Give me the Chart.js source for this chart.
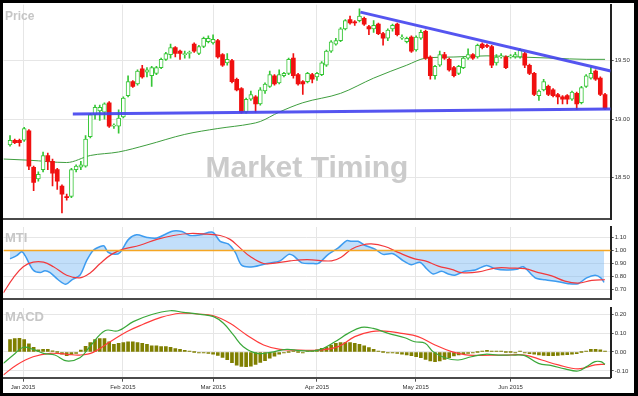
<!DOCTYPE html>
<html>
<head>
<meta charset="utf-8">
<script src="https://cdn.jsdelivr.net/npm/chart.js@4/dist/chart.umd.min.js"></script>
<style>
  body { margin: 0; background: #000; }
  #rahmen { position: relative; width: 638px; height: 396px; background: #000; overflow: hidden; }
  #flaeche { position: absolute; left: 3px; top: 3px; width: 631px; height: 390px; background: #fff; }
  canvas { position: absolute; left: 0; }
</style>
</head>
<body>
<div id="rahmen">
  <div id="flaeche"></div>
  <canvas id="priceChart" width="638" height="224" style="top:0px"></canvas>
  <canvas id="mtiChart" width="638" height="82" style="top:222px"></canvas>
  <canvas id="macdChart" width="638" height="92" style="top:302px"></canvas>
</div>
<script>
// Monatsbeschriftung der Zeitachse (Position = Handelstag-Index)
let monthPos = [2.75, 23.9, 43, 65, 85.9, 106];
let monthLabels = ["Jan 2015", "Feb 2015", "Mar 2015", "Apr 2015", "May 2015", "Jun 2015"];

// Kerzen (ein Wert pro Handelstag)
let open = [18.78, 18.82, 18.82, 18.82, 18.90, 18.59, 18.49, 18.57, 18.69, 18.64,
  18.57, 18.43, 18.34, 18.34, 18.57, 18.59, 18.60, 18.85, 19.04, 19.07,
  19.06, 19.14, 18.94, 18.94, 19.02, 19.20, 19.32, 19.30, 19.43, 19.40,
  19.37, 19.39, 19.44, 19.51, 19.55, 19.61, 19.58, 19.55, 19.56, 19.64,
  19.56, 19.62, 19.66, 19.65, 19.67, 19.55, 19.48, 19.50, 19.34, 19.26,
  19.06, 19.17, 19.19, 19.13, 19.24, 19.28, 19.37, 19.31, 19.37, 19.39,
  19.52, 19.38, 19.32, 19.32, 19.38, 19.36, 19.38, 19.46, 19.58, 19.64,
  19.67, 19.77, 19.85, 19.83, 19.84, 19.86, 19.79, 19.77, 19.81, 19.73,
  19.69, 19.77, 19.81, 19.69, 19.66, 19.70, 19.59, 19.69, 19.75, 19.53,
  19.37, 19.46, 19.55, 19.51, 19.44, 19.39, 19.44, 19.52, 19.55, 19.53,
  19.64, 19.63, 19.62, 19.48, 19.53, 19.53, 19.53, 19.53, 19.53, 19.56,
  19.46, 19.39, 19.20, 19.25, 19.28, 19.25, 19.21, 19.19, 19.20, 19.17,
  19.22, 19.14, 19.28, 19.35, 19.41, 19.35, 19.21];
let high = [18.86, 18.83, 18.83, 18.93, 18.91, 18.60, 18.55, 18.72, 18.71, 18.66,
  18.58, 18.44, 18.36, 18.58, 18.61, 18.64, 18.86, 19.05, 19.12, 19.12,
  19.14, 19.15, 18.96, 19.08, 19.19, 19.37, 19.33, 19.42, 19.46, 19.44,
  19.45, 19.45, 19.52, 19.57, 19.64, 19.62, 19.59, 19.58, 19.58, 19.65,
  19.63, 19.70, 19.71, 19.72, 19.68, 19.56, 19.56, 19.51, 19.35, 19.27,
  19.18, 19.24, 19.20, 19.27, 19.31, 19.41, 19.38, 19.42, 19.40, 19.52,
  19.56, 19.39, 19.33, 19.40, 19.39, 19.40, 19.49, 19.59, 19.67, 19.69,
  19.78, 19.85, 19.88, 19.84, 19.94, 19.87, 19.80, 19.84, 19.82, 19.74,
  19.77, 19.81, 19.82, 19.72, 19.70, 19.71, 19.71, 19.76, 19.76, 19.54,
  19.46, 19.58, 19.57, 19.52, 19.45, 19.46, 19.53, 19.60, 19.56, 19.64,
  19.65, 19.64, 19.63, 19.55, 19.56, 19.54, 19.55, 19.57, 19.60, 19.57,
  19.47, 19.40, 19.25, 19.34, 19.29, 19.26, 19.22, 19.20, 19.21, 19.24,
  19.23, 19.28, 19.38, 19.44, 19.42, 19.36, 19.22];
let low = [18.77, 18.79, 18.77, 18.81, 18.57, 18.39, 18.47, 18.55, 18.57, 18.43,
  18.40, 18.20, 18.31, 18.33, 18.55, 18.57, 18.59, 18.84, 19.00, 18.99,
  19.00, 18.93, 18.92, 18.88, 19.01, 19.19, 19.27, 19.29, 19.35, 19.36,
  19.28, 19.38, 19.43, 19.50, 19.52, 19.53, 19.51, 19.52, 19.52, 19.57,
  19.55, 19.61, 19.65, 19.64, 19.52, 19.45, 19.46, 19.31, 19.24, 19.05,
  19.05, 19.16, 19.06, 19.12, 19.22, 19.27, 19.29, 19.30, 19.36, 19.38,
  19.35, 19.29, 19.21, 19.31, 19.31, 19.33, 19.37, 19.45, 19.57, 19.63,
  19.66, 19.76, 19.81, 19.80, 19.83, 19.80, 19.72, 19.74, 19.72, 19.63,
  19.67, 19.75, 19.71, 19.68, 19.65, 19.57, 19.58, 19.68, 19.51, 19.34,
  19.34, 19.45, 19.51, 19.41, 19.36, 19.38, 19.43, 19.51, 19.51, 19.52,
  19.60, 19.61, 19.44, 19.46, 19.52, 19.43, 19.52, 19.52, 19.52, 19.44,
  19.38, 19.20, 19.16, 19.24, 19.20, 19.19, 19.13, 19.13, 19.13, 19.16,
  19.08, 19.13, 19.27, 19.34, 19.33, 19.20, 19.08];
let close = [18.82, 18.80, 18.80, 18.92, 18.60, 18.46, 18.53, 18.69, 18.64, 18.54,
  18.47, 18.36, 18.33, 18.57, 18.60, 18.61, 18.83, 19.04, 19.10, 19.10,
  19.13, 18.94, 18.95, 19.01, 19.18, 19.32, 19.28, 19.41, 19.36, 19.42,
  19.44, 19.44, 19.51, 19.56, 19.61, 19.56, 19.56, 19.56, 19.57, 19.58,
  19.62, 19.69, 19.69, 19.68, 19.53, 19.46, 19.51, 19.32, 19.25, 19.06,
  19.17, 19.21, 19.13, 19.25, 19.30, 19.38, 19.30, 19.38, 19.39, 19.51,
  19.37, 19.30, 19.30, 19.39, 19.34, 19.39, 19.48, 19.58, 19.66, 19.67,
  19.77, 19.84, 19.82, 19.82, 19.88, 19.81, 19.77, 19.80, 19.73, 19.69,
  19.76, 19.80, 19.72, 19.70, 19.69, 19.58, 19.70, 19.74, 19.52, 19.37,
  19.45, 19.55, 19.52, 19.42, 19.37, 19.45, 19.52, 19.55, 19.52, 19.63,
  19.61, 19.62, 19.46, 19.53, 19.54, 19.44, 19.54, 19.55, 19.59, 19.46,
  19.39, 19.21, 19.24, 19.32, 19.21, 19.20, 19.19, 19.17, 19.17, 19.23,
  19.13, 19.27, 19.37, 19.39, 19.34, 19.21, 19.09];

// gleitender Durchschnitt (grün)
let maX = [-1.4, 4, 12, 17, 23, 29, 37, 44, 51, 53, 57, 62, 70, 77, 84, 88, 94, 101, 108, 115, 122, 126];
let maY = [18.66, 18.65, 18.63, 18.69, 18.72, 18.78, 18.87, 18.92, 18.96, 18.98, 19.06, 19.14,
  19.22, 19.35, 19.46, 19.52, 19.53, 19.54, 19.53, 19.52, 19.51, 19.51];

// Trendlinien (blau)
let resX = [74.2, 127.2];
let resY = [19.913, 19.41];
let supX = [13.3, 127.2];
let supY = [19.045, 19.086];

// MTI und Signal
let mtiLevel = 1.0;
let mtiX = [0, 1.4, 2.5, 3.2, 4.9, 6.4, 7.4, 8.5, 10.2, 11.8, 13.1, 14.8, 16.2, 17.6, 19.1, 19.9, 20.8, 22.2,
  23.3, 25.1, 26.8, 29.0, 31.1, 33.2, 34.6, 36.4, 38.1, 40.3, 42.9, 44.5, 46.2, 47.7, 49.1, 51.5, 54.4,
  57.2, 59.0, 60.0, 61.8, 64.3, 65.3, 67.4, 69.5, 71.3, 72.3, 73.7, 75.1, 77.3, 79.0, 81.1, 83.3, 85.0,
  86.8, 88.2, 89.6, 91.4, 92.8, 94.2, 96.3, 98.5, 100.9, 102.7, 105.1, 107.3, 108.7, 111.2, 113.3,
  116.1, 118.2, 120.3, 122.1, 123.9, 125.1, 125.8];
let mtiY = [0.936, 0.96, 0.99, 0.96, 0.85, 0.83, 0.845, 0.83, 0.775, 0.74, 0.775, 0.81, 0.92, 1.00, 1.03,
  1.035, 0.985, 0.97, 0.985, 1.085, 1.12, 1.10, 1.095, 1.13, 1.15, 1.145, 1.115, 1.12, 1.14, 1.07, 1.05,
  0.985, 0.885, 0.875, 0.90, 0.92, 0.97, 0.96, 0.905, 0.90, 0.90, 0.97, 1.02, 1.075, 1.07, 1.07, 1.04,
  1.01, 0.97, 0.975, 0.92, 0.89, 0.91, 0.86, 0.82, 0.84, 0.82, 0.81, 0.84, 0.85, 0.885, 0.86, 0.85,
  0.855, 0.875, 0.79, 0.775, 0.76, 0.745, 0.745, 0.79, 0.81, 0.79, 0.755];
let sigX = [-1.4, 0.7, 2.8, 4.9, 7.1, 9.2, 12.0, 14.8, 16.9, 19.1, 21.5, 24.0, 27.5, 31.1, 34.6, 38.1,
  41.7, 44.5, 46.6, 48.7, 50.8, 53.7, 56.5, 59.3, 62.9, 68.1, 70.2, 72.3, 74.4, 76.5, 79.4, 82.2, 85.7,
  87.9, 90.7, 93.5, 95.6, 99.2, 102.7, 106.2, 109.0, 111.9, 114.7, 117.5, 120.3, 123.2, 126.0];
let sigY = [0.675, 0.79, 0.875, 0.91, 0.91, 0.875, 0.81, 0.79, 0.825, 0.90, 0.97, 1.01, 1.04, 1.085,
  1.115, 1.13, 1.125, 1.115, 1.085, 1.02, 0.955, 0.90, 0.905, 0.92, 0.93, 0.92, 0.95, 1.01, 1.04, 1.05,
  1.03, 0.985, 0.935, 0.92, 0.88, 0.855, 0.83, 0.835, 0.865, 0.865, 0.86, 0.83, 0.805, 0.765, 0.75,
  0.77, 0.775];

// MACD, Signal und Histogramm
let macdX = [-1.4, 0.7, 2.8, 4.9, 7.1, 9.5, 12.0, 14.8, 16.9, 20.1, 22.9, 26.1, 29.7, 33.9, 36.7, 40.3,
  43.1, 45.2, 47.3, 49.4, 52.3, 55.1, 58.6, 61.4, 65.3, 68.8, 71.6, 74.4, 76.9, 80.1, 83.6, 85.7, 87.9,
  89.6, 92.1, 94.9, 97.7, 100.6, 103.4, 106.9, 109.0, 111.9, 114.7, 117.5, 120.3, 122.1, 123.9, 125.1, 126.0];
let macdY = [-0.06, -0.016, 0.025, 0.014, -0.007, -0.016, -0.047, -0.03, 0.028, 0.112, 0.112, 0.16,
  0.195, 0.217, 0.209, 0.198, 0.186, 0.151, 0.09, 0.028, -0.007, -0.002, 0.014, 0.007, 0.01, 0.054,
  0.098, 0.13, 0.124, 0.098, 0.075, 0.054, 0.046, 0.002, -0.03, -0.042, -0.025, -0.012, -0.016, -0.016,
  -0.019, -0.06, -0.072, -0.089, -0.1, -0.077, -0.051, -0.051, -0.065];
let macdSigX = [-1.4, 1.4, 4.9, 8.5, 12.0, 14.8, 17.6, 21.2, 24.7, 28.2, 31.8, 36.0, 39.6, 43.1, 46.6,
  50.1, 53.7, 57.2, 61.4, 65.3, 69.5, 73.0, 76.5, 79.4, 82.9, 86.4, 90.0, 93.5, 97.0, 104.8, 109.0,
  112.6, 116.1, 120.3, 123.9, 126.0];
let macdSigY = [-0.121, -0.068, -0.025, -0.007, -0.012, -0.016, -0.002, 0.054, 0.107, 0.146, 0.181,
  0.204, 0.2, 0.191, 0.151, 0.09, 0.037, 0.014, 0.01, 0.01, 0.028, 0.081, 0.107, 0.11, 0.098, 0.081,
  0.037, 0.002, -0.016, -0.016, -0.016, -0.042, -0.068, -0.089, -0.068, -0.065];
let hist = [0.065, 0.07, 0.072, 0.066, 0.043, 0.025, 0.011, 0.014, 0.014, 0.006,
  0, -0.012, -0.019, -0.013, -0.008, 0.01, 0.03, 0.05, 0.066, 0.07,
  0.07, 0.054, 0.04, 0.045, 0.049, 0.054, 0.054, 0.05, 0.045, 0.04,
  0.033, 0.032, 0.029, 0.028, 0.025, 0.018, 0.014, 0.009, 0.002, 0,
  -0.002, -0.004, -0.007, -0.012, -0.018, -0.028, -0.04, -0.056, -0.07, -0.076,
  -0.077, -0.074, -0.065, -0.055, -0.045, -0.033, -0.022, -0.011, -0.004, 0,
  0.002, 0, -0.004, 0.002, 0.007, 0.011, 0.019, 0.025, 0.037, 0.046,
  0.049, 0.05, 0.049, 0.046, 0.04, 0.032, 0.023, 0.014, 0.005, 0,
  -0.002, -0.004, -0.007, -0.012, -0.016, -0.019, -0.025, -0.03, -0.039, -0.047,
  -0.051, -0.047, -0.039, -0.03, -0.021, -0.016, -0.009, -0.007, -0.004, 0,
  0.005, 0.009, 0.002, 0.002, 0.002, 0, 0, -0.002, 0.002, -0.004,
  -0.009, -0.012, -0.016, -0.018, -0.019, -0.019, -0.018, -0.016, -0.014, -0.012,
  -0.009, 0, 0.005, 0.014, 0.014, 0.011, 0.004];

let X_MIN = -1.38, X_MAX = 127.2;
let gridColor = "#e6e6e6";

Chart.defaults.font.family = '"Liberation Sans", Arial, sans-serif';
Chart.defaults.animation = false;
Chart.defaults.elements.point.radius = 0;
Chart.defaults.plugins.legend.display = false;
Chart.defaults.plugins.tooltip.enabled = false;

function pts(xs, ys) {
  return xs.map((x, i) => ({ x: x, y: ys[i] }));
}

let up = i => close[i] >= open[i];

// Titel der Felder und Wasserzeichen
let panelText = {
  id: "panelText",
  beforeDatasetsDraw(chart, args, opts) {
    let ctx = chart.ctx;
    ctx.save();
    ctx.fillStyle = "#c6c6c6";
    ctx.font = "bold " + opts.size + 'px "Liberation Sans", Arial, sans-serif';
    ctx.fillText(opts.text, 5, opts.baseline);
    if (opts.watermark) {
      ctx.fillStyle = "#cbcbcb";
      ctx.font = 'bold 30px "Liberation Sans", Arial, sans-serif';
      ctx.textAlign = "center";
      ctx.fillText(opts.watermark, 307, 177);
    }
    ctx.restore();
  }
};

function xAchse(mitText) {
  return {
    type: "linear", min: X_MIN, max: X_MAX, offset: false,
    afterBuildTicks: s => { s.ticks = monthPos.map(v => ({ value: v })); },
    afterFit: s => { s.height = mitText ? 14 : 0; },
    grid: { color: gridColor, offset: false, drawTicks: mitText, tickLength: 4, tickColor: "#555" },
    border: { display: true, color: "#4a4a4a", width: 2 },
    ticks: {
      display: mitText, autoSkip: false, maxRotation: 0, padding: 2, color: "#333",
      font: { size: 6 }, callback: (v, i) => monthLabels[i]
    }
  };
}

function yAchse(min, max, werte) {
  return {
    position: "right", min: min, max: max,
    afterBuildTicks: s => { s.ticks = werte.map(v => ({ value: v })); },
    afterFit: s => { s.width = 27.3; },
    grid: { color: gridColor, tickLength: 3, tickColor: "#555" },
    border: { display: true, color: "#222", width: 2 },
    ticks: { color: "#333", font: { size: 6 }, padding: 1, callback: v => v.toFixed(2) }
  };
}

// Kursfeld
new Chart(document.getElementById("priceChart"), {
  type: "bar",
  data: {
    datasets: [
      { type: "line", data: pts(resX, resY), borderColor: "rgba(66,66,238,0.9)", borderWidth: 3, order: 0 },
      { type: "line", data: pts(supX, supY), borderColor: "rgba(66,66,238,0.9)", borderWidth: 3, order: 0 },
      {
        order: 1, grouped: false, barThickness: 4, minBarLength: 1, borderSkipped: false,
        data: open.map((o, i) => ({ x: i, y: [o, close[i]] })),
        backgroundColor: c => up(c.dataIndex) ? "#ffffff" : "#f01010",
        borderColor: c => up(c.dataIndex) ? "#36c636" : "#f01010",
        borderWidth: c => up(c.dataIndex) ? 1 : 0
      },
      {
        order: 2, grouped: false, barThickness: 1,
        data: low.map((l, i) => ({ x: i, y: [l, high[i]] })),
        backgroundColor: c => up(c.dataIndex) ? "#36c636" : "#f01010"
      },
      {
        type: "line", data: pts(maX, maY), borderColor: "#3f9e3f", borderWidth: 1,
        cubicInterpolationMode: "monotone", order: 3
      }
    ]
  },
  options: {
    responsive: false,
    layout: { padding: { left: 3.5, top: 4, bottom: 2, right: 0 } },
    scales: { x: xAchse(false), y: yAchse(18.145, 19.977, [18.5, 19.0, 19.5]) },
    plugins: { panelText: { text: "Price", size: 12, baseline: 20, watermark: "Market Timing" } }
  },
  plugins: [panelText]
});

// MTI-Feld
new Chart(document.getElementById("mtiChart"), {
  type: "line",
  data: {
    datasets: [
      { data: [{ x: X_MIN, y: mtiLevel }, { x: X_MAX, y: mtiLevel }], borderColor: "#f5a623", borderWidth: 1.5, order: 0 },
      { data: pts(sigX, sigY), borderColor: "#f2393c", borderWidth: 1.2, tension: 0.4, order: 1 },
      {
        data: pts(mtiX, mtiY), borderColor: "#3d9cf0", borderWidth: 1.5, tension: 0.3, order: 2,
        fill: { value: mtiLevel }, backgroundColor: "rgba(120,185,245,0.45)"
      }
    ]
  },
  options: {
    responsive: false,
    layout: { padding: { left: 3.5, top: 5, bottom: 2, right: 0 } },
    scales: { x: xAchse(false), y: yAchse(0.6244, 1.18, [0.7, 0.8, 0.9, 1.0, 1.1]) },
    plugins: { panelText: { text: "MTI", size: 13, baseline: 20 } }
  },
  plugins: [panelText]
});

// MACD-Feld
new Chart(document.getElementById("macdChart"), {
  type: "bar",
  data: {
    datasets: [
      { type: "line", data: pts(macdX, macdY), borderColor: "#3aa83a", borderWidth: 1.2, tension: 0.4, order: 0 },
      { type: "line", data: pts(macdSigX, macdSigY), borderColor: "#ff3b3b", borderWidth: 1.2, tension: 0.4, order: 1 },
      {
        data: hist.map((v, i) => ({ x: i, y: v })), backgroundColor: "#7f7f00",
        barThickness: 3, minBarLength: 1, grouped: false, order: 2
      }
    ]
  },
  options: {
    responsive: false,
    layout: { padding: { left: 3.5, top: 6, bottom: 2.3, right: 0 } },
    scales: { x: xAchse(true), y: yAchse(-0.1353, 0.2316, [-0.1, 0, 0.1, 0.2]) },
    plugins: { panelText: { text: "MACD", size: 13, baseline: 19 } }
  },
  plugins: [panelText]
});
</script>
</body>
</html>
